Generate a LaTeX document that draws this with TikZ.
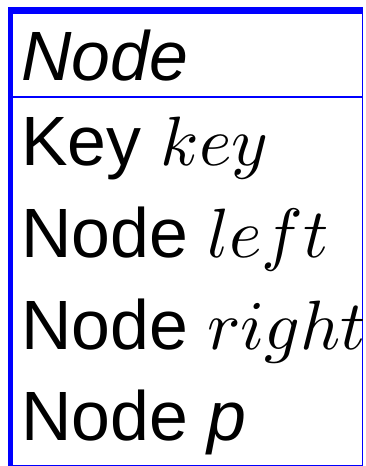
\documentclass[tikz,border=0pt]{standalone}
\usepackage{fontspec}
\setmainfont{Liberation Sans}
\DeclareFontFamily{OML}{mycmm}{\skewchar\font127}
\DeclareFontShape{OML}{mycmm}{m}{it}{<->cmmi10}{}
\DeclareSymbolFont{letters}{OML}{mycmm}{m}{it}
\tikzset{
  rowtext/.style={anchor=base west, inner sep=0pt, outer sep=0pt,
    font=\fontsize{69.8}{80}\selectfont},
  frameline/.style={draw=blue, line width=1.3pt}
}
\begin{document}
\begin{tikzpicture}[x=1pt,y=-1pt]
\useasboundingbox (0,0) rectangle (366,466);
% frame
\fill[blue] (8,7) rectangle (363.3,13);
\fill[blue] (8,7) rectangle (13,466);
\draw[frameline] (13,13) -- (362.6,13) -- (362.6,465.3) -- (13,465.3);
\draw[frameline] (13,97) -- (362.6,97);
% texts
\node[rowtext] (head) at (21,80) {\textit{Node}};
\node[rowtext] (key) at (21,165) {Key $key$};
\node[rowtext] (left) at (21,257) {Node $left$};
\node[rowtext] (right) at (21,349) {Node $right$};
\node[rowtext] (p) at (21,440) {Node \textit{p}};
\end{tikzpicture}
\end{document}
